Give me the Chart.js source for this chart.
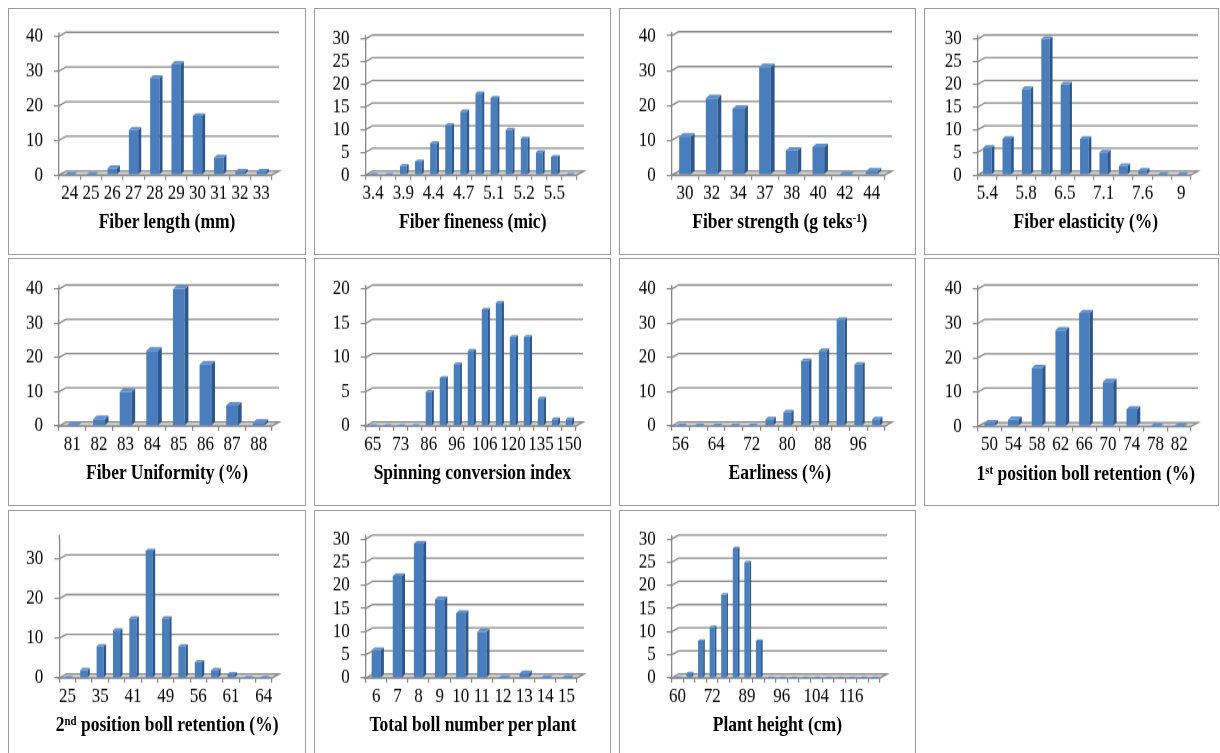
<!DOCTYPE html>
<html><head><meta charset="utf-8">
<script src="https://cdn.jsdelivr.net/npm/chart.js@4.4.0/dist/chart.umd.min.js"></script>
<style>
html,body{margin:0;padding:0;background:#fff;width:1220px;height:753px;overflow:hidden;position:relative;}
.box{position:absolute;border:1.5px solid #9a9a9a;box-sizing:border-box;}
.wrap{position:absolute;transform-origin:0 0;}
.ttl{position:absolute;font-family:'Liberation Serif','Times New Roman',serif;font-weight:bold;font-size:17.5px;white-space:nowrap;color:#000;line-height:1;}
.ttl sup{font-size:0.62em;vertical-align:0.5em;line-height:0;}
</style></head><body>
<script>
// ---------- data ----------
const lengthCats = ['24','25','26','27','28','29','30','31','32','33'];
const lengthVals = [0,0,2,13,28,32,17,5,1,1];
const finenessCats = ['3.4','','3.9','','4.4','','4.7','','5.1','','5.2','','5.5',''];
const finenessVals = [0,0,2,3,7,11,14,18,17,10,8,5,4,0];
const strengthCats = ['30','32','34','37','38','40','42','44'];
const strengthVals = [11,22,19,31,7,8,0,1];
const elasticityCats = ['5.4','','5.8','','6.5','','7.1','','7.6','','9'];
const elasticityVals = [6,8,19,30,20,8,5,2,1,0,0];
const uniformityCats = ['81','82','83','84','85','86','87','88'];
const uniformityVals = [0,2,10,22,40,18,6,1];
const sciCats = ['65','','73','','86','','96','','106','','120','','135','','150'];
const sciVals = [0,0,0,0,5,7,9,11,17,18,13,13,4,1,1];
const earlinessCats = ['56','','64','','72','','80','','88','','96',''];
const earlinessVals = [0,0,0,0,0,2,4,19,22,31,18,2];
const boll1Cats = ['50','54','58','62','66','70','74','78','82'];
const boll1Vals = [1,2,17,28,33,13,5,0,0];
const boll2Cats = ['25','','35','','41','','49','','56','','61','','64'];
const boll2Vals = [0,2,8,12,15,32,15,8,4,2,1,0,0];
const bollNumCats = ['6','7','8','9','10','11','12','13','14','15'];
const bollNumVals = [6,22,29,17,14,10,0,1,0,0];
const heightCats = ['60','','','72','','','89','','','96','','','104','','','116','',''];
const heightVals = [0,1,8,11,18,28,25,8,0,0,0,0,0,0,0,0,0,0];

const yMax  = [40,30,40,30,40,20,40,40,35,30,30];
const yStep = [10,5,10,5,10,5,10,10,10,5,5];
const titles = [
  'Fiber length (mm)',
  'Fiber fineness (mic)',
  'Fiber strength (g teks<sup>-1</sup>)',
  'Fiber elasticity (%)',
  'Fiber Uniformity (%)',
  'Spinning conversion index',
  'Earliness (%)',
  '1<sup>st</sup> position boll retention (%)',
  '2<sup>nd</sup> position boll retention (%)',
  'Total boll number per plant',
  'Plant height (cm)'
];
const catSets = [lengthCats,finenessCats,strengthCats,elasticityCats,uniformityCats,sciCats,earlinessCats,boll1Cats,boll2Cats,bollNumCats,heightCats];
const valSets = [lengthVals,finenessVals,strengthVals,elasticityVals,uniformityVals,sciVals,earlinessVals,boll1Vals,boll2Vals,bollNumVals,heightVals];

// ---------- layout (page px) ----------
const cols = [[8,298],[314,297],[619,297],[924,295]];
const rows = [[8,247],[258,248],[510,252]];
const geo = [ // [L, R, top, zero]
  [59,272,36.3,175],[365.5,577,39,175],[671.7,885,35.7,175],[977.7,1191,39,175],
  [59,272,289,426],[365.7,576,289,426],[671.7,885,289,426],[977.7,1191,289,426.5],
  [59.3,272,539,678],[365.7,577,539,678],[671.7,880,539,678]
];
const S = 1.2, DX = 7, DYV = 4;
const FRONT = '#4a7dbb', SIDE = '#2d578b', TOPC = '#5f8fcc', GRID = '#878787';
const FONT = "'Liberation Serif','Times New Roman',serif";

const plugin3d = {
  id: 'excel3d',
  beforeDatasetsDraw(chart) {
    const {ctx, chartArea: a, scales: {y}} = chart;
    const dy = DYV / S;
    const yz = y.getPixelForValue(0);
    ctx.save();
    ctx.lineWidth = 1.3; ctx.strokeStyle = GRID;
    ctx.beginPath();
    ctx.moveTo(a.left, yz); ctx.lineTo(a.left + DX, yz - dy);
    ctx.lineTo(a.right + DX, yz - dy); ctx.lineTo(a.right, yz); ctx.closePath();
    ctx.fillStyle = '#d8d8d8'; ctx.fill(); ctx.stroke();
    y.ticks.forEach(t => {
      if (t.value === 0) return;
      const py = y.getPixelForValue(t.value);
      ctx.beginPath();
      ctx.moveTo(a.left, py); ctx.lineTo(a.left + DX, py - dy); ctx.lineTo(a.right + DX, py - dy);
      ctx.stroke();
    });
    ctx.beginPath(); ctx.moveTo(a.left, a.top); ctx.lineTo(a.left, a.top - dy); ctx.stroke();
    ctx.restore();
  },
  afterDatasetsDraw(chart) {
    const {ctx, scales: {x}} = chart;
    const meta = chart.getDatasetMeta(0);
    const cw = x.width / chart.data.labels.length;
    const bdx = 0.14 * cw, bdy = 0.95 * bdx / S;
    ctx.save();
    meta.data.forEach(el => {
      const {x: cx, y: ty, base, width} = el.getProps(['x','y','base','width'], true);
      const l = cx - width / 2, r = cx + width / 2;
      ctx.fillStyle = SIDE;
      ctx.beginPath(); ctx.moveTo(r, ty); ctx.lineTo(r + bdx, ty - bdy); ctx.lineTo(r + bdx, base - bdy); ctx.lineTo(r, base); ctx.closePath(); ctx.fill();
      ctx.fillStyle = TOPC;
      ctx.beginPath(); ctx.moveTo(l, ty); ctx.lineTo(l + bdx, ty - bdy); ctx.lineTo(r + bdx, ty - bdy); ctx.lineTo(r, ty); ctx.closePath(); ctx.fill();
    });
    ctx.restore();
  }
};

for (let i = 0; i < 11; i++) {
  const [bx, W] = cols[i % 4];
  const [by, H] = rows[Math.floor(i / 4)];
  const [L, R, top, zero] = geo[i];
  const Hc = Math.round(H / S);

  const box = document.createElement('div');
  box.className = 'box';
  Object.assign(box.style, {left: bx + 'px', top: by + 'px', width: W + 'px', height: H + 'px'});
  document.body.appendChild(box);

  const wrap = document.createElement('div');
  wrap.className = 'wrap';
  Object.assign(wrap.style, {left: bx + 'px', top: by + 'px', width: W + 'px', height: Hc + 'px', transform: 'scaleY(' + S + ')'});
  const cv = document.createElement('canvas');
  cv.width = W; cv.height = Hc;
  wrap.appendChild(cv);
  document.body.appendChild(wrap);

  const step = yStep[i], maxV = yMax[i];
  new Chart(cv, {
    type: 'bar',
    data: {labels: catSets[i], datasets: [{data: valSets[i], backgroundColor: FRONT, borderWidth: 0, barPercentage: 0.44, categoryPercentage: 1}]},
    options: {
      responsive: false, animation: false, events: [],
      plugins: {legend: {display: false}, tooltip: {enabled: false}},
      layout: {padding: {left: 0, right: W - (R - bx), top: (top - by) / S, bottom: 0}},
      scales: {
        x: {
          grid: {display: true, drawOnChartArea: false, drawTicks: true, tickLength: 4, color: GRID, lineWidth: 1.2, offset: true},
          border: {display: true, color: GRID, width: 1.3},
          ticks: {autoSkip: false, maxRotation: 0, minRotation: 0, color: '#000', font: {family: FONT, size: 17}, padding: 1},
          afterFit: s => { s.height = Hc - (zero - by) / S; }
        },
        y: {
          min: 0, max: maxV,
          grid: {display: true, drawOnChartArea: false, drawTicks: true, tickLength: 5, color: GRID, lineWidth: 1.2},
          border: {display: true, color: GRID, width: 1.3},
          ticks: {autoSkip: false, color: '#000', font: {family: FONT, size: 17}, padding: 11},
          afterBuildTicks: s => {
            const tk = [];
            for (let v = 0; v <= maxV; v += step) tk.push({value: v});
            s.ticks = tk;
          },
          afterFit: s => { s.width = L - bx; }
        }
      }
    },
    plugins: [plugin3d]
  });

  const t = document.createElement('div');
  t.className = 'ttl';
  t.innerHTML = titles[i];
  Object.assign(t.style, {left: ((L + R + DX) / 2 - 2) + 'px', top: (zero + 47) + 'px', transform: 'translate(-50%,-50%) scaleY(' + S + ')'});
  document.body.appendChild(t);
}
</script>
</body></html>
